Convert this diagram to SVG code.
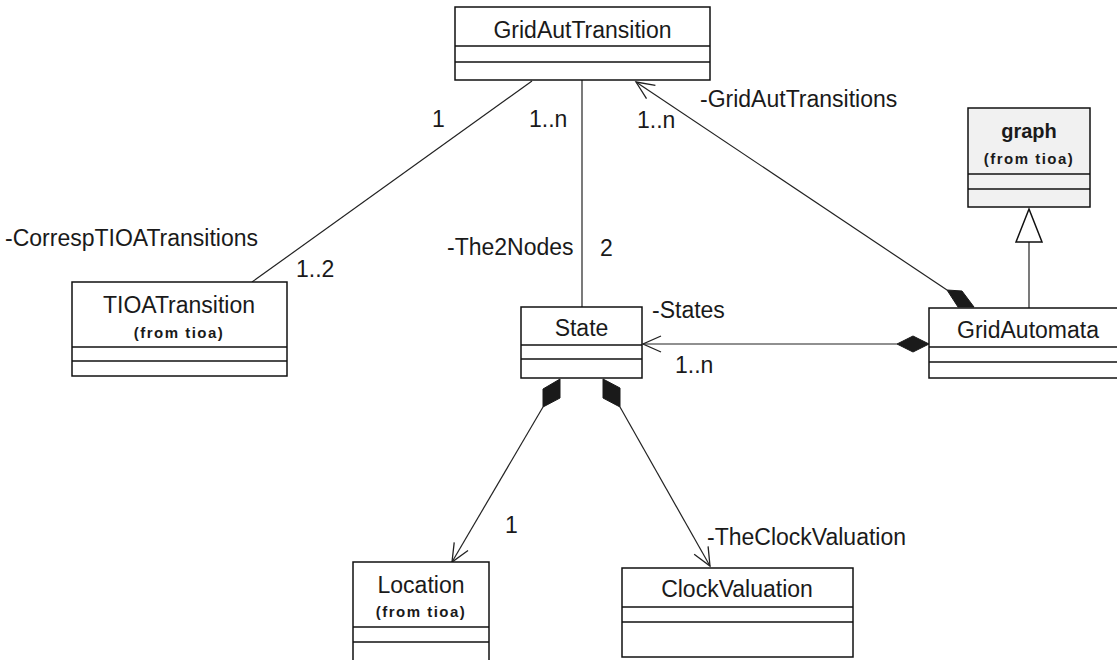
<svg xmlns="http://www.w3.org/2000/svg" width="1117" height="660" viewBox="0 0 1117 660">
  <style>
    .box { fill: #ffffff; stroke: #111111; stroke-width: 1.5; }
    .box.lib { fill: #f1f1f1; }
    .sep { stroke: #111111; stroke-width: 1.5; }
    .name { font-family: "Liberation Sans", Arial, sans-serif; font-size: 23px; fill: #1a1a1a; text-anchor: middle; }
    .graphname { font-family: "Liberation Sans", Arial, sans-serif; font-size: 20px; font-weight: bold; fill: #1a1a1a; text-anchor: middle; }
    .pkg { font-family: "Liberation Sans", Arial, sans-serif; font-size: 15px; font-weight: bold; letter-spacing: 1.5px; fill: #1a1a1a; text-anchor: middle; }
    .lbl { font-family: "Liberation Sans", Arial, sans-serif; font-size: 23px; fill: #1a1a1a; }
    .assoc { stroke: #222222; stroke-width: 1.2; fill: none; }
    .diamond { fill: #1a1a1a; stroke: #1a1a1a; stroke-width: 1; }
    .gen { fill: #ffffff; stroke: #111111; stroke-width: 1.5; }
  </style>
  <defs>
    <marker id="open" markerUnits="userSpaceOnUse" markerWidth="24" markerHeight="20" viewBox="-20 -10 24 20" refX="0" refY="0" orient="auto">
      <path d="M -18 -8 L 0 0 L -18 8" fill="none" stroke="#222222" stroke-width="1.3"/>
    </marker>
  </defs>

  <rect width="1117" height="660" fill="#ffffff"/>

  <!-- associations -->
  <g id="connectors">
    <line class="assoc" x1="532" y1="81" x2="252" y2="282"/>
    <line class="assoc" x1="582" y1="80" x2="582" y2="307"/>
    <line class="assoc" x1="947" y1="290" x2="636" y2="82" marker-end="url(#open)"/>
    <polygon class="diamond" points="947,290 962,291 974,307 958,307"/>
    <line class="assoc" x1="897" y1="344" x2="643" y2="344" marker-end="url(#open)"/>
    <polygon class="diamond" points="897,344 913,336 929,344 913,352"/>
    <line class="assoc" x1="543" y1="407" x2="452" y2="562" marker-end="url(#open)"/>
    <polygon class="diamond" points="543,389 560,379 560,398 543,407"/>
    <line class="assoc" x1="620" y1="407" x2="710" y2="566" marker-end="url(#open)"/>
    <polygon class="diamond" points="603,379 620,388 620,407 603,398"/>
    <!-- generalization GridAutomata -> graph -->
    <line class="assoc" x1="1029" y1="242" x2="1029" y2="308"/>
    <polygon class="gen" points="1029,209 1042,242 1016,242"/>

    <text class="lbl" x="432" y="127">1</text>
    <text class="lbl" x="296" y="277">1..2</text>
    <text class="lbl" x="5" y="246">-CorrespTIOATransitions</text>
    <text class="lbl" x="529" y="127">1..n</text>
    <text class="lbl" x="447" y="255">-The2Nodes</text>
    <text class="lbl" x="600" y="256">2</text>
    <text class="lbl" x="637" y="128">1..n</text>
    <text class="lbl" x="700" y="107">-GridAutTransitions</text>
    <text class="lbl" x="652" y="318">-States</text>
    <text class="lbl" x="675" y="373">1..n</text>
    <text class="lbl" x="505" y="533">1</text>
    <text class="lbl" x="707" y="545">-TheClockValuation</text>
  </g>

  <g id="GridAutTransition">
    <rect class="box" x="455" y="7" width="255" height="73"/>
    <line class="sep" x1="455" y1="46" x2="710" y2="46"/>
    <line class="sep" x1="455" y1="62" x2="710" y2="62"/>
    <text class="name" x="582.5" y="38">GridAutTransition</text>
  </g>

  <g id="graph">
    <rect class="box lib" x="968" y="108" width="122" height="99"/>
    <line class="sep" x1="968" y1="174" x2="1090" y2="174"/>
    <line class="sep" x1="968" y1="189" x2="1090" y2="189"/>
    <text class="graphname" x="1029" y="138">graph</text>
    <text class="pkg" x="1029" y="164">(from tioa)</text>
  </g>

  <g id="TIOATransition">
    <rect class="box" x="72" y="282" width="215" height="94"/>
    <line class="sep" x1="72" y1="347" x2="287" y2="347"/>
    <line class="sep" x1="72" y1="361" x2="287" y2="361"/>
    <text class="name" x="179" y="313">TIOATransition</text>
    <text class="pkg" x="179" y="338">(from tioa)</text>
  </g>

  <g id="State">
    <rect class="box" x="521" y="307" width="121" height="71"/>
    <line class="sep" x1="521" y1="345" x2="642" y2="345"/>
    <line class="sep" x1="521" y1="359" x2="642" y2="359"/>
    <text class="name" x="581.5" y="336">State</text>
  </g>

  <g id="GridAutomata">
    <rect class="box" x="929" y="308" width="198" height="70"/>
    <line class="sep" x1="929" y1="347" x2="1127" y2="347"/>
    <line class="sep" x1="929" y1="362" x2="1127" y2="362"/>
    <text class="name" x="1028" y="338">GridAutomata</text>
  </g>

  <g id="Location">
    <rect class="box" x="353" y="562" width="136" height="100"/>
    <line class="sep" x1="353" y1="627" x2="489" y2="627"/>
    <line class="sep" x1="353" y1="642" x2="489" y2="642"/>
    <text class="name" x="421" y="593">Location</text>
    <text class="pkg" x="421" y="617">(from tioa)</text>
  </g>

  <g id="ClockValuation">
    <rect class="box" x="622" y="568" width="231" height="89"/>
    <line class="sep" x1="622" y1="607" x2="853" y2="607"/>
    <line class="sep" x1="622" y1="622" x2="853" y2="622"/>
    <text class="name" x="737" y="597">ClockValuation</text>
  </g>
</svg>
